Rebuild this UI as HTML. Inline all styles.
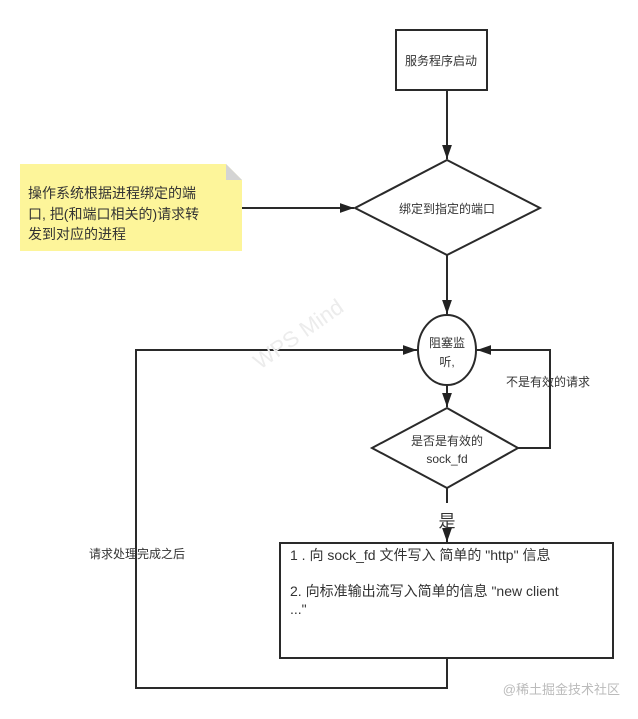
<!DOCTYPE html>
<html><head><meta charset="utf-8"><style>
html,body{margin:0;padding:0;background:#fff;}
svg text{font-family:"Liberation Sans","Noto Sans CJK SC",sans-serif;fill:#333;}
</style></head><body>
<svg width="638" height="714" viewBox="0 0 638 714" xmlns="http://www.w3.org/2000/svg">
<defs><marker id="a" viewBox="0 0 10 10" refX="10" refY="5" markerWidth="8" markerHeight="8" orient="auto" markerUnits="userSpaceOnUse"><path d="M0,0L10,5L0,10z" fill="#222"/></marker>
<marker id="b" viewBox="0 0 10 10" refX="10" refY="5" markerWidth="14" markerHeight="14" orient="auto" markerUnits="userSpaceOnUse"><path d="M0,1.5L10,5L0,8.5z" fill="#222"/></marker></defs>
<g stroke="#2a2a2a" stroke-width="2" fill="none">
<rect x="396" y="30" width="91" height="60" fill="#fff"/>
<line x1="447" y1="90" x2="447" y2="159" marker-end="url(#b)"/>
<polygon points="447,160 540,208 447,255 355,208" fill="#fff"/>
<line x1="197" y1="208" x2="354" y2="208" marker-end="url(#b)"/>
<line x1="447" y1="255" x2="447" y2="314" marker-end="url(#b)"/>
<ellipse cx="447" cy="350" rx="29" ry="35" fill="#fff"/>
<line x1="447" y1="385" x2="447" y2="407" marker-end="url(#b)"/>
<polygon points="447,408 518,448 447,488 372,448" fill="#fff"/>
<polyline points="518,448 550,448 550,350 477,350" marker-end="url(#b)"/>
<line x1="447" y1="488" x2="447" y2="503"/>
<line x1="447" y1="528" x2="447" y2="542" marker-end="url(#b)"/>
<rect x="280" y="543" width="333" height="115" fill="#fff"/>
<polyline points="447,658 447,688 136,688 136,350 417,350" marker-end="url(#b)"/>
</g>
<path d="M20,164H226L242,180V251H20Z" fill="#fdf59a"/>
<path d="M226,164L242,180H226Z" fill="#d4d4d4"/>
<text x="441" y="65" font-size="12" text-anchor="middle">服务程序启动</text>
<text x="447" y="213" font-size="12" text-anchor="middle">绑定到指定的端口</text>
<text x="447" y="347" font-size="12" text-anchor="middle">阻塞监</text>
<text x="447" y="366" font-size="12" text-anchor="middle">听,</text>
<text x="447" y="445" font-size="12" text-anchor="middle">是否是有效的</text>
<text x="447" y="463" font-size="12" text-anchor="middle">sock_fd</text>
<text x="548" y="386" font-size="12" text-anchor="middle">不是有效的请求</text>
<text x="447" y="527" font-size="17" text-anchor="middle">是</text>
<text x="137" y="558" font-size="12" text-anchor="middle">请求处理完成之后</text>
<text font-size="14"><tspan x="28" y="198">操作系统根据进程绑定的端</tspan><tspan x="28" y="219">口, 把(和端口相关的)请求转</tspan><tspan x="28" y="239">发到对应的进程</tspan></text>
<text font-size="14"><tspan x="290" y="560">1 . 向 sock_fd 文件写入 简单的 "http" 信息</tspan><tspan x="290" y="596">2. 向标准输出流写入简单的信息 "new client</tspan><tspan x="290" y="614">..."</tspan></text>
<text x="620" y="694" font-size="13" text-anchor="end" fill="#bbb" style="fill:#bbb">@稀土掘金技术社区</text>
<text x="260" y="370" font-size="22" fill="#eee" style="fill:#ececec" transform="rotate(-35 260 370)">WPS Mind</text>
</svg>
</body></html>
